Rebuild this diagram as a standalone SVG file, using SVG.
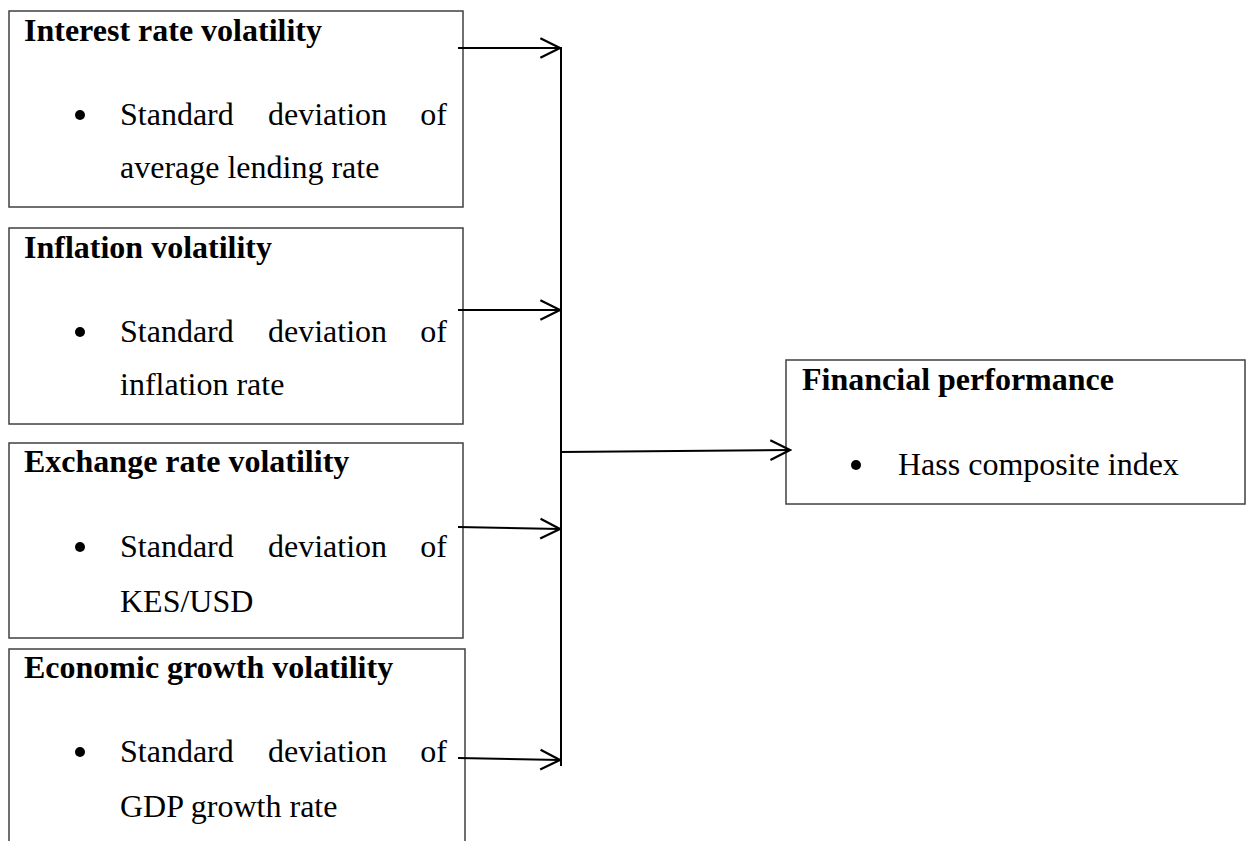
<svg xmlns="http://www.w3.org/2000/svg" width="1253" height="841" viewBox="0 0 1253 841">
<style>
.box{fill:#fff;stroke:#404040;stroke-width:1.5}
.t{font-family:"Liberation Serif","Times New Roman",serif;font-size:32px;font-weight:bold;fill:#000}
.b{font-family:"Liberation Serif","Times New Roman",serif;font-size:32px;fill:#000}
.dot{fill:#000}
.c{stroke:#000;stroke-width:2;fill:none}
</style>
<defs>
<marker id="ah" markerUnits="userSpaceOnUse" markerWidth="24" markerHeight="24" viewBox="-20 -11 22 22" refX="0" refY="0" orient="auto">
<path d="M-18,-9 L0,0 L-18,9" fill="none" stroke="#000" stroke-width="2"/>
</marker>
</defs>
<rect width="1253" height="841" fill="#fff"/>
<g id="n1">
<rect class="box" x="9" y="11" width="454" height="196"/>
<text class="t" x="24" y="41">Interest rate volatility</text>
<circle class="dot" cx="80" cy="115" r="5"/>
<text class="b" x="120" y="125">Standard</text>
<text class="b" x="268" y="125">deviation</text>
<text class="b" x="447" y="125" text-anchor="end">of</text>
<text class="b" x="120" y="178">average lending rate</text>
</g>
<g id="n2">
<rect class="box" x="9" y="228" width="454" height="196"/>
<text class="t" x="24" y="258">Inflation volatility</text>
<circle class="dot" cx="80" cy="332" r="5"/>
<text class="b" x="120" y="342">Standard</text>
<text class="b" x="268" y="342">deviation</text>
<text class="b" x="447" y="342" text-anchor="end">of</text>
<text class="b" x="120" y="395">inflation rate</text>
</g>
<g id="n3">
<rect class="box" x="9" y="443" width="454" height="195"/>
<text class="t" x="24" y="472">Exchange rate volatility</text>
<circle class="dot" cx="80" cy="547" r="5"/>
<text class="b" x="120" y="557">Standard</text>
<text class="b" x="268" y="557">deviation</text>
<text class="b" x="447" y="557" text-anchor="end">of</text>
<text class="b" x="120" y="612">KES/USD</text>
</g>
<g id="n4">
<path class="box" d="M9,845 V649 H465 V845"/>
<text class="t" x="24" y="678">Economic growth volatility</text>
<circle class="dot" cx="80" cy="752" r="5"/>
<text class="b" x="120" y="762">Standard</text>
<text class="b" x="268" y="762">deviation</text>
<text class="b" x="447" y="762" text-anchor="end">of</text>
<text class="b" x="120" y="817">GDP growth rate</text>
</g>
<g id="n5">
<rect class="box" x="786" y="360" width="459" height="144"/>
<text class="t" x="802" y="390">Financial performance</text>
<circle class="dot" cx="856" cy="465" r="5"/>
<text class="b" x="898" y="475">Hass composite index</text>
</g>
<g id="connectors">
<line class="c" x1="561" y1="47" x2="561" y2="766"/>
<line class="c" x1="458" y1="48" x2="560" y2="48" marker-end="url(#ah)"/>
<line class="c" x1="458" y1="310" x2="560" y2="310" marker-end="url(#ah)"/>
<line class="c" x1="458" y1="527" x2="560" y2="529" marker-end="url(#ah)"/>
<line class="c" x1="458" y1="758" x2="560" y2="760" marker-end="url(#ah)"/>
<line class="c" x1="561" y1="452" x2="790" y2="450" marker-end="url(#ah)"/>
</g>
</svg>
